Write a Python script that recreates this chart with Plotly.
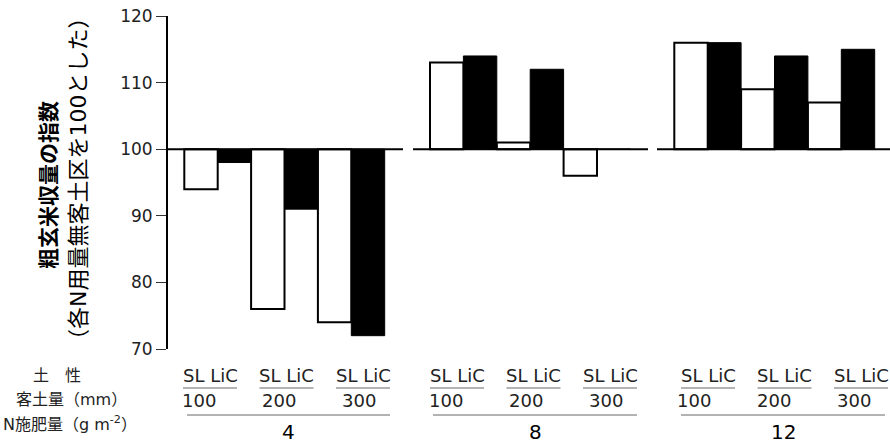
import plotly.graph_objects as go

# ---- data ----
n_levels = ["4", "8", "12"]              # N fertilizer (g m-2)
soil_amounts = ["100", "200", "300"]     # dressing soil amount (mm)
soils = ["SL", "LiC"]
sl_index = [94, 76, 74, 113, 101, 96, 116, 109, 107]
lic_index = [98, 91, 72, 114, 112, 100, 116, 114, 115]
y_ticks = [70, 80, 90, 100, 110, 120]

# ---- layout constants (pixels) ----
W, H = 890, 447
L, T, B = 168, 16, 98
PW = W - L
PH = H - T - B
BW = 33.4
panel_bar_start = [16.3, 262.0, 506.3]
baseline_segs = [(0, 235), (245, 480), (489, 722)]
soil_label_start = [42, 289, 540]
soil_label_pitch = 76.5
num_label_start = [31, 277.5, 526]
num_label_pitch = 80
long_line = [(19, 222), (265, 469), (513, 717)]
FONT = "DejaVu Sans, Noto Sans CJK JP, sans-serif"
TXT = "#222222"
GRAY = "#9a9a9a"


def py(y_px):
    return (H - B - y_px) / PH


def px(x_px):
    return (x_px - L) / PW


sl_x, lic_x = [], []
for p in range(len(n_levels)):
    for g in range(len(soil_amounts)):
        left = panel_bar_start[p] + 2 * g * BW
        sl_x.append(left + 0.5 * BW)
        lic_x.append(left + 1.5 * BW)

fig = go.Figure()
fig.add_trace(go.Bar(
    x=sl_x, y=[v - 100 for v in sl_index], base=100, width=BW,
    marker=dict(color="white", line=dict(color="black", width=2)),
    name=soils[0], hoverinfo="skip"))
fig.add_trace(go.Bar(
    x=lic_x, y=[v - 100 for v in lic_index], base=100, width=BW,
    marker=dict(color="black", line=dict(color="black", width=1)),
    name=soils[1], hoverinfo="skip"))

shapes = []
for x0, x1 in baseline_segs:
    shapes.append(dict(type="line", xref="x", yref="y", x0=x0, x1=x1, y0=100, y1=100,
                       line=dict(color="black", width=2)))

annotations = []
for p in range(len(n_levels)):
    for g in range(len(soil_amounts)):
        cx = soil_label_start[p] + g * soil_label_pitch
        annotations.append(dict(text=soils[0] + " " + soils[1], x=cx, xref="x", y=py(375), yref="paper",
                                showarrow=False, xanchor="center", yanchor="middle",
                                font=dict(size=18, color=TXT, family=FONT)))
        shapes.append(dict(type="line", xref="x", yref="paper", x0=cx - 27, x1=cx + 27,
                           y0=py(388), y1=py(388), line=dict(color=GRAY, width=1.5)))
        nx = num_label_start[p] + g * num_label_pitch
        annotations.append(dict(text=soil_amounts[g], x=nx, xref="x", y=py(400), yref="paper",
                                showarrow=False, xanchor="center", yanchor="middle",
                                font=dict(size=18, color=TXT, family=FONT)))
    x0, x1 = long_line[p]
    shapes.append(dict(type="line", xref="x", yref="paper", x0=x0, x1=x1,
                       y0=py(415), y1=py(415), line=dict(color=GRAY, width=1.5)))
    annotations.append(dict(text=n_levels[p], x=(x0 + x1) / 2, xref="x", y=py(432), yref="paper",
                            showarrow=False, xanchor="center", yanchor="middle",
                            font=dict(size=20, color="black", family=FONT)))

left_labels = [("土　性", 57, 375), ("客土量（mm）", 71, 399), ("N施肥量（g m<sup>-2</sup>）", 70, 423)]
for t, x, y in left_labels:
    annotations.append(dict(text=t, x=px(x), xref="paper", y=py(y), yref="paper",
                            showarrow=False, xanchor="center", yanchor="middle",
                            font=dict(size=16, color=TXT, family=FONT)))

annotations.append(dict(text="<b>粗玄米収量の指数</b>", x=px(49), xref="paper", y=py(185), yref="paper",
                        showarrow=False, xanchor="center", yanchor="middle", textangle=-90,
                        font=dict(size=21, color="black", family=FONT)))
annotations.append(dict(text="（各N用量無客土区を100とした）", x=px(78), xref="paper", y=py(179), yref="paper",
                        showarrow=False, xanchor="center", yanchor="middle", textangle=-90,
                        font=dict(size=22, color="black", family=FONT)))

fig.update_layout(
    width=W, height=H,
    margin=dict(l=L, r=0, t=T, b=B, pad=0),
    paper_bgcolor="white", plot_bgcolor="white",
    showlegend=False, barmode="overlay",
    xaxis=dict(range=[0, PW], visible=False, fixedrange=True),
    yaxis=dict(range=[70, 120], tickvals=y_ticks, ticks="outside", ticklen=10, tickwidth=1,
               tickcolor="#333333", showline=True, linecolor="black", linewidth=2,
               showgrid=False, zeroline=False, fixedrange=True,
               tickfont=dict(size=17, color=TXT, family=FONT)),
    shapes=shapes, annotations=annotations,
    font=dict(family=FONT),
)

fig.write_html("out.html", config={"displayModeBar": False})
